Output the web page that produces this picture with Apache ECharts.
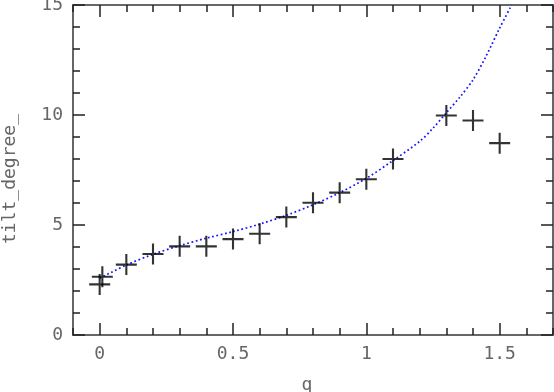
<!DOCTYPE html>
<html>
<head>
<meta charset="utf-8">
<script src="https://cdn.jsdelivr.net/npm/echarts@6/dist/echarts.min.js"></script>
<style>
html,body{margin:0;padding:0;background:#fff;}
#chart{width:554px;height:392px;}
</style>
</head>
<body>
<div id="chart"></div>
<script>
// measured points (q, tilt)
var pointQ    = [0, 0.01, 0.1, 0.2, 0.3, 0.4, 0.5, 0.6, 0.7, 0.8, 0.9, 1.0, 1.1, 1.3, 1.4, 1.5];
var pointTilt = [2.3, 2.65, 3.2, 3.68, 4.03, 4.03, 4.36, 4.6, 5.36, 6.01, 6.47, 7.08, 8.0, 9.98, 9.75, 8.72];
// fitted curve
var curveQ    = [0, 0.1, 0.2, 0.3, 0.4, 0.5, 0.6, 0.7, 0.8, 0.9, 1.0, 1.1, 1.2, 1.25, 1.3, 1.35, 1.4, 1.45, 1.5, 1.545];
var curveTilt = [2.58, 3.18, 3.67, 4.06, 4.4, 4.7, 5.04, 5.44, 5.92, 6.47, 7.12, 7.93, 8.8, 9.4, 10.1, 10.8, 11.6, 12.7, 13.95, 15.0];
// ticks
var xMajorTicks = [0, 0.5, 1, 1.5];
var xMinorTicks = [-0.1, 0, 0.1, 0.2, 0.3, 0.4, 0.5, 0.6, 0.7, 0.8, 0.9, 1.0, 1.1, 1.2, 1.3, 1.4, 1.5, 1.6, 1.7];
var yTickLabels = [0, 5, 10, 15];
var xName = 'q';
var yName = 'tilt_degree_';

var chart = echarts.init(document.getElementById('chart'), null, {renderer: 'canvas'});
var font = 'DejaVu Sans Mono';
var txtColor = '#666';
var tickColor = '#222';

function xAxisDef(pos, major, showLine, showLabel) {
  return {
    type: 'value', position: pos, min: -0.1, max: 1.7,
    splitLine: {show: false},
    axisLine: {show: showLine, onZero: false, lineStyle: {color: '#666', width: 2}},
    axisTick: {show: true, inside: true, length: major ? 12 : 7,
      customValues: major ? xMajorTicks : xMinorTicks,
      lineStyle: {color: tickColor, width: 1.5}},
    axisLabel: {show: showLabel, customValues: xMajorTicks, margin: 10,
      formatter: function (v) { return String(v); }, fontFamily: font, fontSize: 18, color: txtColor},
    name: showLabel ? xName : '',
    nameLocation: 'middle', nameGap: 41,
    nameTextStyle: {fontFamily: font, fontSize: 18, color: txtColor, padding: [0, 12, 0, 0]}
  };
}
function yAxisDef(pos, showLabel) {
  return {
    type: 'value', position: pos, min: 0, max: 15, interval: 5,
    splitLine: {show: false},
    axisLine: {show: true, onZero: false, lineStyle: {color: '#666', width: 2}},
    axisTick: {show: true, inside: true, length: 12, lineStyle: {color: tickColor, width: 1.5}},
    minorTick: {show: true, splitNumber: 5, length: 7, lineStyle: {color: tickColor, width: 1.5}},
    axisLabel: {show: showLabel, margin: 10, fontFamily: font, fontSize: 18, color: txtColor,
      customValues: yTickLabels},
    name: showLabel ? yName : '',
    nameLocation: 'middle', nameGap: 54,
    nameTextStyle: {fontFamily: font, fontSize: 18, color: txtColor, padding: [0, 18, 0, 0]}
  };
}

var option = {
  animation: false,
  backgroundColor: '#fff',
  grid: {left: 73, right: 1, top: 5, bottom: 57, containLabel: false, outerBoundsMode: 'none'},
  xAxis: [
    xAxisDef('bottom', true, true, true),
    xAxisDef('bottom', false, false, false),
    xAxisDef('top', true, true, false),
    xAxisDef('top', false, false, false)
  ],
  yAxis: [
    yAxisDef('left', true),
    yAxisDef('right', false)
  ],
  series: [
    {
      type: 'line',
      xAxisIndex: 0, yAxisIndex: 0,
      data: curveQ.map(function (q, i) { return [q, curveTilt[i]]; }),
      smooth: 0.3,
      showSymbol: false,
      clip: true,
      lineStyle: {color: '#1010ff', width: 1.7, type: [1.7, 2.6]}
    },
    {
      type: 'scatter',
      xAxisIndex: 0, yAxisIndex: 0,
      data: pointQ.map(function (q, i) { return [q, pointTilt[i]]; }),
      symbol: 'path://M9,0h2v20h-2zM0,9h20v2h-20z',
      symbolSize: 21,
      itemStyle: {color: '#000'},
      z: 5
    }
  ]
};
chart.setOption(option);
</script>
</body>
</html>
